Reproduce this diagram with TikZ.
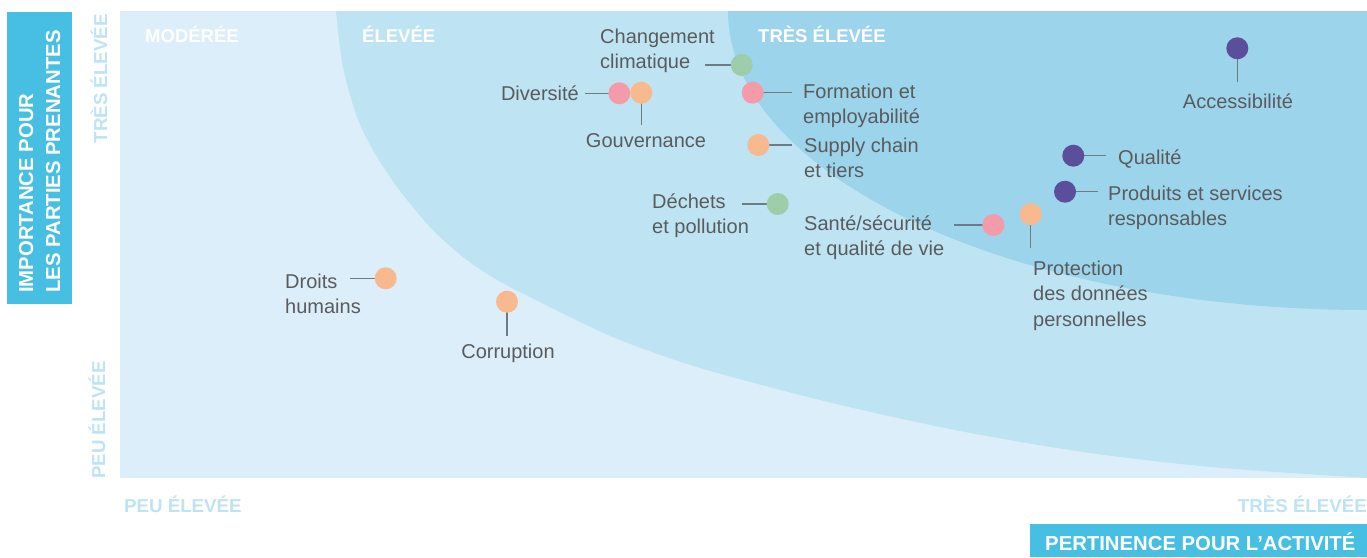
\documentclass[tikz,border=0pt]{standalone}
\usepackage{fontspec}
\setmainfont{Liberation Sans}
\definecolor{bgA}{HTML}{DCEEF9}
\definecolor{bgB}{HTML}{BEE4F3}
\definecolor{bgC}{HTML}{9CD4EB}
\definecolor{boxblue}{HTML}{47BFE2}
\definecolor{axblue}{HTML}{BDE3F4}
\definecolor{txt}{HTML}{5A5B5D}
\definecolor{lgray}{HTML}{6D7C82}
\definecolor{dorange}{HTML}{F9B98E}
\definecolor{dpink}{HTML}{F39BA9}
\definecolor{dgreen}{HTML}{9ECDAA}
\definecolor{dpurple}{HTML}{5B4E9B}
\tikzset{
  dot/.style={circle, minimum size=22pt, inner sep=0pt, fill=#1},
  lbl/.style={text=txt, font=\fontsize{20}{25.5}\selectfont, align=left, inner sep=0pt},
  conn/.style={draw=lgray, line width=1.5pt},
  zone/.style={text=white, font=\fontsize{18.5}{22}\selectfont\bfseries, inner sep=0pt},
  axis/.style={text=axblue, font=\fontsize{18.7}{22}\selectfont\bfseries, inner sep=0pt},
  titlebox/.style={fill=boxblue, draw=none},
  titletext/.style={text=white, font=\fontsize{20.3}{27}\selectfont\bfseries, inner sep=0pt, align=left},
}
\begin{document}
\begin{tikzpicture}[x=1pt,y=-1pt]
\useasboundingbox (0,0) rectangle (1367,557);
% plot zones
\begin{scope}
  \clip (120,11) rectangle (1367,478);
  \fill[bgA] (120,11) rectangle (1367,478);
  \fill[bgB] plot[smooth, tension=0.5] coordinates {(334,-30) (336,11) (343,67) (357,117) (373,150) (397,187) (430,227) (463,257) (497,280) (530,297) (570,317) (620,340) (700,368) (828,402) (955,430) (1083,452) (1211,467) (1367,478) (1420,481)} -- (1420,-30) -- cycle;
  \fill[bgC] (1367,11) ellipse [x radius=639, y radius=299];
\end{scope}
% zone labels
\node[zone, anchor=base west] (zmod) at (145,42) {MODÉRÉE};
\node[zone, anchor=base west] (zele) at (362,42) {ÉLEVÉE};
\node[zone, anchor=base west] (ztres) at (758,42) {TRÈS ÉLEVÉE};
% axis labels
\node[axis, rotate=90, anchor=base east] (ytop) at (107,14) {TRÈS ÉLEVÉE};
\node[axis, rotate=90, anchor=base west] (ybot) at (105,479) {PEU ÉLEVÉE};
\node[axis, anchor=base west] (xlow) at (124,512) {PEU ÉLEVÉE};
\node[axis, anchor=base east] (xhigh) at (1367,512) {TRÈS ÉLEVÉE};
% title boxes
\fill[titlebox] (7,12) rectangle (72,304);
\node[titletext, rotate=90, anchor=south west] (ytitle) at (60.5,293) {IMPORTANCE POUR\\LES PARTIES PRENANTES};
\fill[titlebox] (1030,524) rectangle (1367,557);
\node[titletext, anchor=base west] (xtitle) at (1045,550) {PERTINENCE POUR L’ACTIVITÉ};
% coordinates of connector ends
\coordinate (climE) at (705,65);
\coordinate (divE) at (585,93.3);
\coordinate (gouvE) at (641.3,125);
\coordinate (formE) at (792,92.7);
\coordinate (suppE) at (792,145);
\coordinate (dechE) at (742,204);
\coordinate (santeE) at (954,225);
\coordinate (protE) at (1030.7,248);
\coordinate (qualE) at (1106,155.7);
\coordinate (prodE) at (1098,191.7);
\coordinate (accE) at (1237.3,82);
\coordinate (droitsE) at (350,278.3);
\coordinate (corrE) at (507,336);
% connectors
\draw[conn] (741.7,65) -- (climE);
\draw[conn] (619.3,93.3) -- (divE);
\draw[conn] (641.3,92.7) -- (gouvE);
\draw[conn] (752.7,92.7) -- (formE);
\draw[conn] (758.3,145) -- (suppE);
\draw[conn] (777.7,204) -- (dechE);
\draw[conn] (993.3,225) -- (santeE);
\draw[conn] (1030.7,214) -- (protE);
\draw[conn] (1073.3,155.7) -- (qualE);
\draw[conn] (1065,191.7) -- (prodE);
\draw[conn] (1237.3,48.3) -- (accE);
\draw[conn] (385.7,278.3) -- (droitsE);
\draw[conn] (507,301.7) -- (corrE);
% dots
\node[dot=dgreen] (clim) at (741.7,65) {};
\node[dot=dpink] (div) at (619.3,93.3) {};
\node[dot=dorange] (gouv) at (641.3,92.7) {};
\node[dot=dpink] (form) at (752.7,92.7) {};
\node[dot=dorange] (supp) at (758.3,145) {};
\node[dot=dgreen] (dech) at (777.7,204) {};
\node[dot=dpink] (sante) at (993.3,225) {};
\node[dot=dorange] (prot) at (1030.7,214) {};
\node[dot=dpurple] (qual) at (1073.3,155.7) {};
\node[dot=dpurple] (prod) at (1065,191.7) {};
\node[dot=dpurple] (acc) at (1237.3,48.3) {};
\node[dot=dorange] (droits) at (385.7,278.3) {};
\node[dot=dorange] (corr) at (507,301.7) {};
% labels
\node[lbl, anchor=north west] (climT) at (600,25.15) {\strut Changement\\climatique};
\node[lbl, anchor=base east] (divT) at (579,100) {Diversité};
\node[lbl, anchor=base] (gouvT) at (646,147) {Gouvernance};
\node[lbl, anchor=north west] (formT) at (803,80.15) {\strut Formation et\\employabilité};
\node[lbl, anchor=north west] (suppT) at (804,134.15) {\strut Supply chain\\et tiers};
\node[lbl, anchor=north west] (dechT) at (652,190.15) {\strut Déchets\\et pollution};
\node[lbl, anchor=north west] (santeT) at (804,212.15) {\strut Santé/sécurité\\et qualité de vie};
\node[lbl, anchor=north west] (protT) at (1033,257.15) {\strut Protection\\des données\\personnelles};
\node[lbl, anchor=base west] (qualT) at (1118,164) {Qualité};
\node[lbl, anchor=north west] (prodT) at (1108,182.15) {\strut Produits et services\\responsables};
\node[lbl, anchor=base] (accT) at (1238,108) {Accessibilité};
\node[lbl, anchor=north west] (droitsT) at (285,270.15) {\strut Droits\\humains};
\node[lbl, anchor=base] (corrT) at (508,358) {Corruption};
\end{tikzpicture}
\end{document}
